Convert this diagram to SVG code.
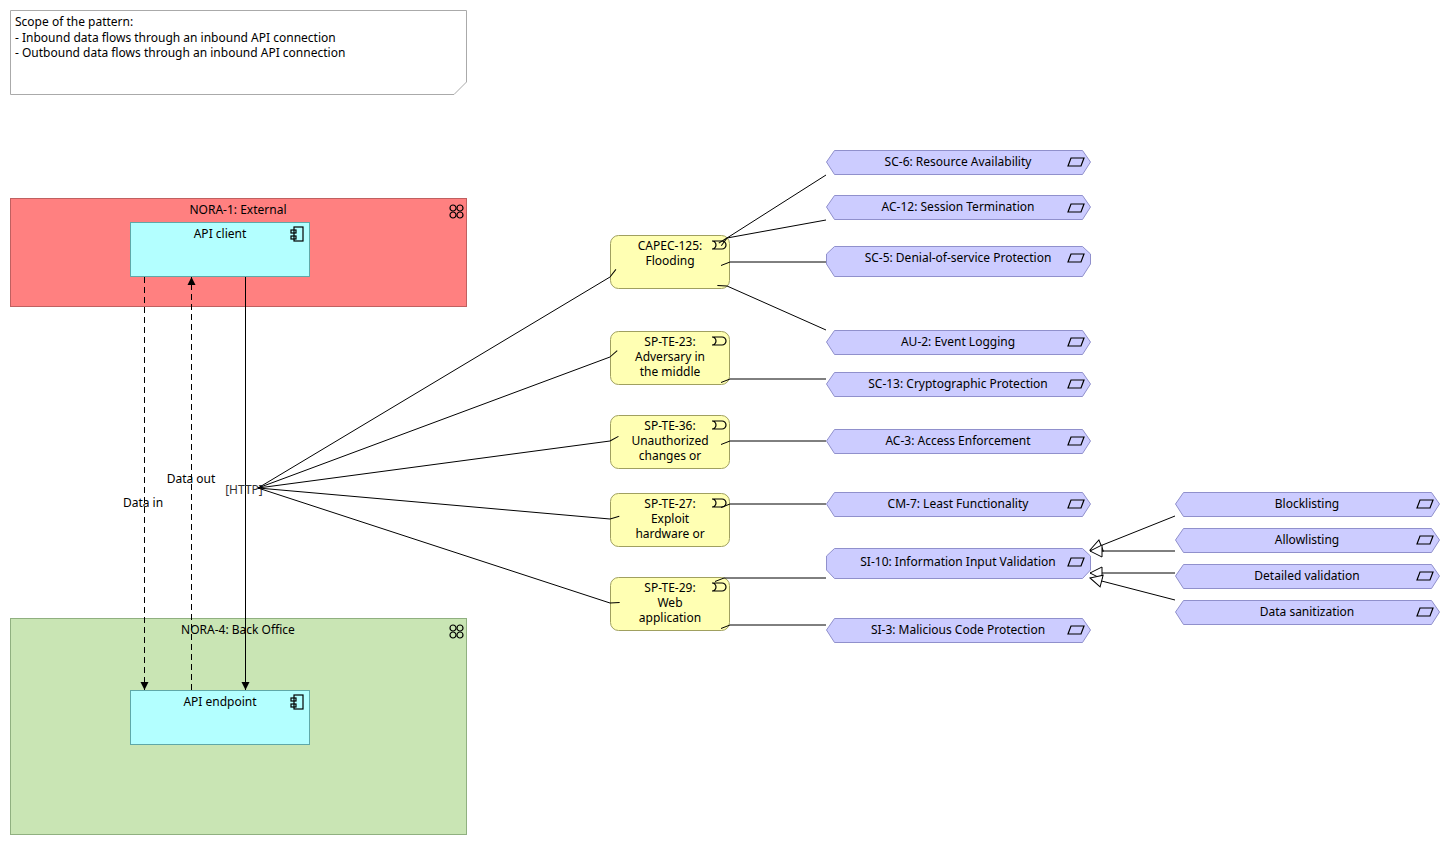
<svg xmlns="http://www.w3.org/2000/svg" width="1450" height="845" viewBox="0 0 1450 845">
<style>
text{font-family:"Noto Sans","Open Sans",sans-serif;font-size:12px;fill:#000}
.t{text-anchor:middle}
.grp1{fill:#ff8080;stroke:#c06060}
.grp4{fill:#c9e5b4;stroke:#90b080}
.comp{fill:#b3ffff;stroke:#5fa8a8}
.thr{fill:#ffffb3;stroke:#a0a060}
.ctl{fill:#ccccff;stroke:#9090cc}
.ln{stroke:#000;fill:none;stroke-width:1}
.ic{stroke:#000;fill:none;stroke-width:1.2}
</style>
<defs>
<marker id="fa" markerWidth="10" markerHeight="10" refX="8" refY="5" orient="auto" markerUnits="userSpaceOnUse"><path d="M0,1 L8,5 L0,9 Z" fill="#000"/></marker>
<marker id="barb" markerWidth="12" markerHeight="10" refX="0" refY="5" orient="auto" markerUnits="userSpaceOnUse"><path d="M0,5 L9,1.5" stroke="#000" fill="none"/></marker>
<marker id="spec" markerWidth="16" markerHeight="16" refX="13" refY="8" orient="auto" markerUnits="userSpaceOnUse"><path d="M1,2 L13,8 L1,14 Z" fill="#fff" stroke="#000"/></marker>
<g id="ctlicon"><path d="M-8,4 L-5,-4 L8,-4 L5,4 Z" class="ic"/></g>
<g id="thricon"><path d="M-6,-4 L4,-4 A4,4 0 0 1 4,4 L-6,4 A4,4 0 0 0 -6,-4 Z" class="ic"/></g>
<g id="compicon"><rect x="-4" y="-7" width="9" height="14" class="ic"/><rect x="-7" y="-4" width="5" height="3" fill="#b3ffff" class="ic"/><rect x="-7" y="2" width="5" height="3" fill="#b3ffff" class="ic"/></g>
<g id="grpicon"><circle cx="-3" cy="-3" r="3" class="ic"/><circle cx="4" cy="-3" r="3" class="ic"/><circle cx="-3" cy="4" r="3" class="ic"/><circle cx="4" cy="4" r="3" class="ic"/></g>
</defs>

<g id="note">
<path d="M10.5,10.5 H466.5 V82 L454,94.5 H10.5 Z" fill="#fff" stroke="#aaa"/>
<text x="15" y="26">Scope of the pattern:</text>
<text x="15" y="42">- Inbound data flows through an inbound API connection</text>
<text x="15" y="57">- Outbound data flows through an inbound API connection</text>
</g>

<g id="nora1"><rect x="10.5" y="198.5" width="456" height="108" class="grp1"/><text x="238" y="214" class="t">NORA-1: External</text><use href="#grpicon" x="456" y="211"/></g>
<g id="nora4"><rect x="10.5" y="618.5" width="456" height="216" class="grp4"/><text x="238" y="634" class="t">NORA-4: Back Office</text><use href="#grpicon" x="456" y="631"/></g>
<g id="apiclient"><rect x="130.5" y="222.5" width="179" height="54" class="comp"/><text x="220" y="238" class="t">API client</text><use href="#compicon" x="298" y="234"/></g>
<g id="apiendpoint"><rect x="130.5" y="690.5" width="179" height="54" class="comp"/><text x="220" y="706" class="t">API endpoint</text><use href="#compicon" x="298" y="702"/></g>

<g id="threats">
<g id="capec125"><rect x="610.5" y="235.5" width="119" height="53" rx="8" class="thr"/><text x="670" y="250" class="t">CAPEC-125:</text><text x="670" y="265" class="t">Flooding</text><use href="#thricon" x="718" y="245"/></g>
<g id="spte23"><rect x="610.5" y="331.5" width="119" height="53" rx="8" class="thr"/><text x="670" y="346" class="t">SP-TE-23:</text><text x="670" y="361" class="t">Adversary in</text><text x="670" y="376" class="t">the middle</text><use href="#thricon" x="718" y="341"/></g>
<g id="spte36"><rect x="610.5" y="415.5" width="119" height="53" rx="8" class="thr"/><text x="670" y="430" class="t">SP-TE-36:</text><text x="670" y="445" class="t">Unauthorized</text><text x="670" y="460" class="t">changes or</text><use href="#thricon" x="718" y="425"/></g>
<g id="spte27"><rect x="610.5" y="493.5" width="119" height="53" rx="8" class="thr"/><text x="670" y="508" class="t">SP-TE-27:</text><text x="670" y="523" class="t">Exploit</text><text x="670" y="538" class="t">hardware or</text><use href="#thricon" x="718" y="503"/></g>
<g id="spte29"><rect x="610.5" y="577.5" width="119" height="53" rx="8" class="thr"/><text x="670" y="592" class="t">SP-TE-29:</text><text x="670" y="607" class="t">Web</text><text x="670" y="622" class="t">application</text><use href="#thricon" x="718" y="587"/></g>
</g>

<g id="controls">
<g id="sc6"><path d="M834.5,150.5 H1082.5 L1090.5,162 L1082.5,174.5 H834.5 L826.5,162 Z" class="ctl"/><text x="958" y="166" class="t">SC-6: Resource Availability</text><use href="#ctlicon" x="1076" y="162"/></g>
<g id="ac12"><path d="M834.5,195.5 H1082.5 L1090.5,207 L1082.5,219.5 H834.5 L826.5,207 Z" class="ctl"/><text x="958" y="211" class="t">AC-12: Session Termination</text><use href="#ctlicon" x="1076" y="208"/></g>
<g id="sc5"><path d="M834.5,246.5 H1082.5 L1090.5,254 V264 L1082.5,276.5 H834.5 L826.5,264 V254 Z" class="ctl"/><text x="958" y="262" class="t">SC-5: Denial-of-service Protection</text><use href="#ctlicon" x="1076" y="258"/></g>
<g id="au2"><path d="M834.5,330.5 H1082.5 L1090.5,342 L1082.5,354.5 H834.5 L826.5,342 Z" class="ctl"/><text x="958" y="346" class="t">AU-2: Event Logging</text><use href="#ctlicon" x="1076" y="342"/></g>
<g id="sc13"><path d="M834.5,372.5 H1082.5 L1090.5,384 L1082.5,396.5 H834.5 L826.5,384 Z" class="ctl"/><text x="958" y="388" class="t">SC-13: Cryptographic Protection</text><use href="#ctlicon" x="1076" y="384"/></g>
<g id="ac3"><path d="M834.5,429.5 H1082.5 L1090.5,441 L1082.5,453.5 H834.5 L826.5,441 Z" class="ctl"/><text x="958" y="445" class="t">AC-3: Access Enforcement</text><use href="#ctlicon" x="1076" y="441"/></g>
<g id="cm7"><path d="M834.5,492.5 H1082.5 L1090.5,504 L1082.5,516.5 H834.5 L826.5,504 Z" class="ctl"/><text x="958" y="508" class="t">CM-7: Least Functionality</text><use href="#ctlicon" x="1076" y="504"/></g>
<g id="si10"><path d="M834.5,548.5 H1082.5 L1090.5,556 V570 L1082.5,578.5 H834.5 L826.5,570 V556 Z" class="ctl"/><text x="958" y="566" class="t">SI-10: Information Input Validation</text><use href="#ctlicon" x="1076" y="562"/></g>
<g id="si3"><path d="M834.5,618.5 H1082.5 L1090.5,630 L1082.5,642.5 H834.5 L826.5,630 Z" class="ctl"/><text x="958" y="634" class="t">SI-3: Malicious Code Protection</text><use href="#ctlicon" x="1076" y="630"/></g>
<g id="block"><path d="M1183.5,492.5 H1431.5 L1439.5,504 L1431.5,516.5 H1183.5 L1175.5,504 Z" class="ctl"/><text x="1307" y="508" class="t">Blocklisting</text><use href="#ctlicon" x="1425" y="504"/></g>
<g id="allow"><path d="M1183.5,528.5 H1431.5 L1439.5,540 L1431.5,552.5 H1183.5 L1175.5,540 Z" class="ctl"/><text x="1307" y="544" class="t">Allowlisting</text><use href="#ctlicon" x="1425" y="540"/></g>
<g id="detail"><path d="M1183.5,564.5 H1431.5 L1439.5,576 L1431.5,588.5 H1183.5 L1175.5,576 Z" class="ctl"/><text x="1307" y="580" class="t">Detailed validation</text><use href="#ctlicon" x="1425" y="576"/></g>
<g id="sanit"><path d="M1183.5,600.5 H1431.5 L1439.5,612 L1431.5,624.5 H1183.5 L1175.5,612 Z" class="ctl"/><text x="1307" y="616" class="t">Data sanitization</text><use href="#ctlicon" x="1425" y="612"/></g>
</g>

<g id="connectors">
<line x1="144.5" y1="277" x2="144.5" y2="690" class="ln" stroke-dasharray="6,4" marker-end="url(#fa)"/>
<line x1="191.5" y1="690" x2="191.5" y2="277" class="ln" stroke-dasharray="6,4" marker-end="url(#fa)"/>
<line x1="245.5" y1="277" x2="245.5" y2="690" class="ln" marker-end="url(#fa)"/>
<text x="143" y="507" class="t" font-size="11">Data in</text>
<text x="191" y="483" class="t" font-size="11">Data out</text>
<text x="244" y="494" class="t" style="fill:#333">[HTTP]</text>

<g marker-end="url(#barb)">
<line x1="258" y1="488" x2="610" y2="277" class="ln"/>
<line x1="258" y1="488" x2="610" y2="357" class="ln"/>
<line x1="258" y1="488" x2="610" y2="441" class="ln"/>
<line x1="258" y1="488" x2="610" y2="519" class="ln"/>
<line x1="258" y1="488" x2="610" y2="603" class="ln"/>
<line x1="826" y1="175" x2="727" y2="238" class="ln"/>
<line x1="826" y1="220" x2="727" y2="238" class="ln"/>
<line x1="826" y1="262" x2="730" y2="262" class="ln"/>
<line x1="826" y1="330" x2="727" y2="286" class="ln"/>
<line x1="826" y1="379" x2="730" y2="379" class="ln"/>
<line x1="826" y1="441" x2="730" y2="441" class="ln"/>
<line x1="826" y1="504" x2="730" y2="504" class="ln"/>
<line x1="826" y1="578" x2="724" y2="578" class="ln"/>
<line x1="826" y1="625" x2="730" y2="625" class="ln"/>
</g>
<g marker-end="url(#spec)">
<line x1="1175" y1="516" x2="1090" y2="550" class="ln"/>
<line x1="1175" y1="551" x2="1090" y2="551" class="ln"/>
<line x1="1175" y1="573" x2="1090" y2="573" class="ln"/>
<line x1="1175" y1="600" x2="1090" y2="578" class="ln"/>
</g>
</g>
</svg>
